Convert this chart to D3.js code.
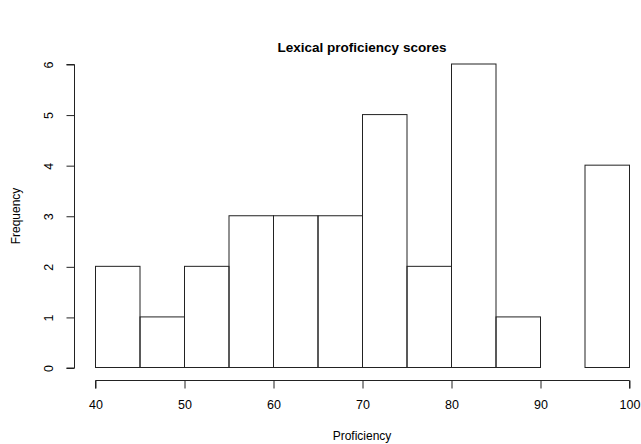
<!DOCTYPE html>
<html><head><meta charset="utf-8">
<script src="https://cdn.jsdelivr.net/npm/d3@7"></script>
<style>body{margin:0;background:#fff}svg{display:block}text{font-family:"Liberation Sans",Arial,sans-serif;fill:#000}</style>
</head><body><svg id="c" width="641" height="444"></svg>
<script>
const binStarts = [40,45,50,55,60,65,70,75,80,85,90,95];
const binWidth = 5;
const counts = [2,1,2,3,3,3,5,2,6,1,0,4];
const xTicks = [40,50,60,70,80,90,100];
const yTicks = [0,1,2,3,4,5,6];
const title = "Lexical proficiency scores";
const xLabel = "Proficiency";
const yLabel = "Frequency";

const svg = d3.select("#c");
const x = d3.scaleLinear().domain([40,100]).range([95,629]);
const y = d3.scaleLinear().domain([0,6]).range([367.5,64]);
const stroke = "#222";

svg.selectAll("rect.bar").data(binStarts).enter().append("rect")
  .attr("x", (d)=>x(d)+0.5).attr("y",(d,i)=>y(counts[i]))
  .attr("width",(d)=>x(d+binWidth)-x(d)).attr("height",(d,i)=>y(0)-y(counts[i]))
  .attr("fill","none").attr("stroke",stroke).attr("stroke-width",1);

// x axis
const xa = svg.append("g").attr("transform","translate(0.5,380.5)")
  .call(d3.axisBottom(x).tickValues(xTicks).tickSize(8).tickPadding(12).tickFormat(d3.format("d")));
xa.select(".domain").attr("stroke",stroke).attr("d",`M${x(40)},8V0H${x(100)}V8`);
xa.selectAll(".tick line").attr("stroke",stroke);
xa.selectAll(".tick text").attr("font-size",12.5).attr("font-family","Liberation Sans, Arial, sans-serif").attr("fill","#000");

// y axis
const ya = svg.append("g").attr("transform","translate(74.5,0.5)")
  .call(d3.axisLeft(y).tickValues(yTicks).tickSize(8).tickFormat(d3.format("d")));
ya.select(".domain").attr("stroke",stroke).attr("d",`M-8,${y(0)}H0V${y(6)}H-8`);
ya.selectAll(".tick line").attr("stroke",stroke);
ya.selectAll(".tick text").attr("font-size",12.5).attr("font-family","Liberation Sans, Arial, sans-serif").attr("fill","#000")
  .attr("x",null).attr("dy",null).attr("text-anchor","middle")
  .attr("transform","translate(-25,0) rotate(-90)").attr("dominant-baseline","middle");

svg.append("text").attr("x",362).attr("y",52).attr("text-anchor","middle")
  .attr("font-size",13.5).attr("font-weight","bold").text(title);
svg.append("text").attr("x",362).attr("y",440).attr("text-anchor","middle")
  .attr("font-size",12).text(xLabel);
svg.append("text").attr("transform",`translate(20,216) rotate(-90)`).attr("text-anchor","middle")
  .attr("font-size",12).text(yLabel);
</script></body></html>
